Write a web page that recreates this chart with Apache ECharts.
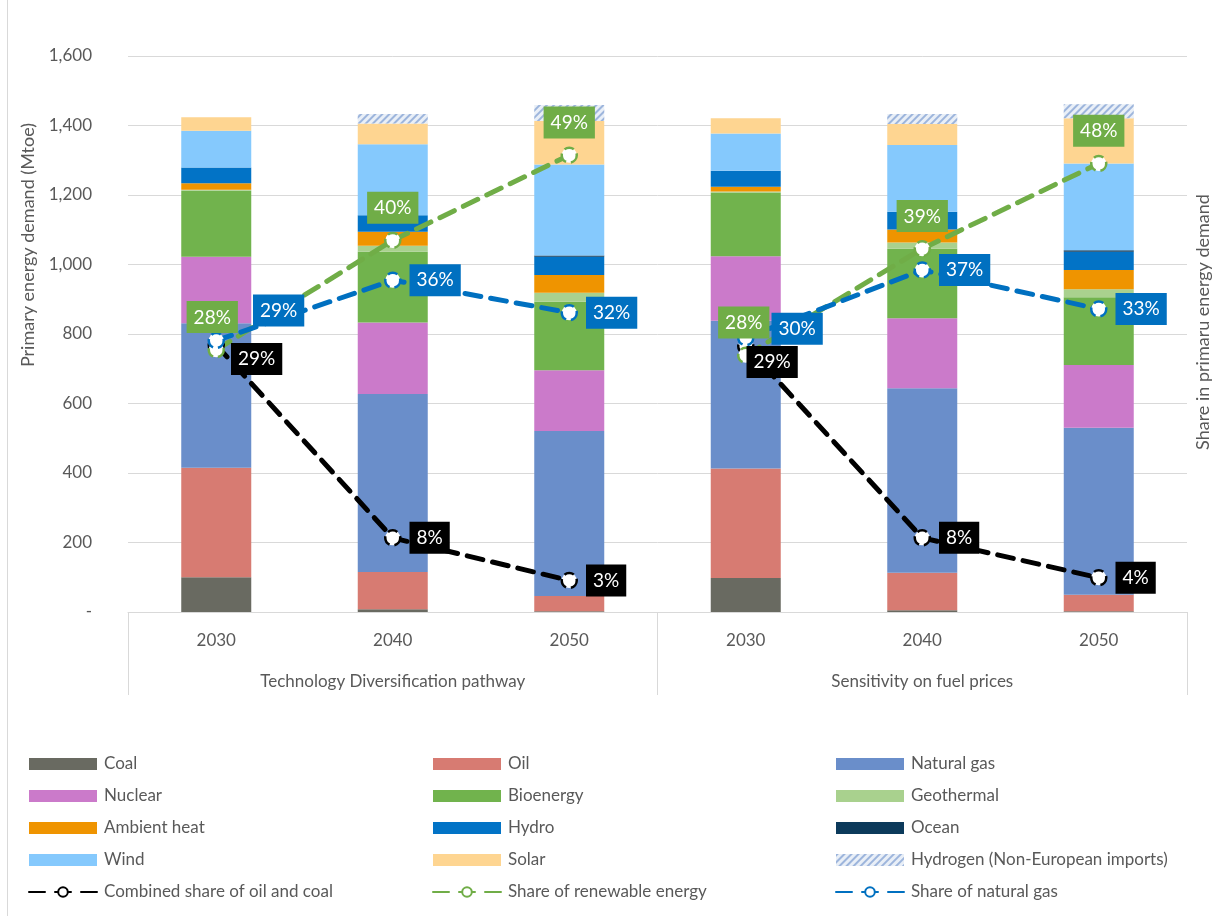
<!DOCTYPE html>
<html>
<head>
<meta charset="utf-8">
<script src="https://cdn.jsdelivr.net/npm/echarts@6/dist/echarts.min.js"></script>
<style>
html,body{margin:0;padding:0;background:#fff;}
#chart{width:1215px;height:916px;}
</style>
</head>
<body>
<div id="chart"></div>
<script>
// ---------- DATA ----------
const years = ['2030', '2040', '2050', '2030', '2040', '2050'];
const groups = ['Technology Diversification pathway', 'Sensitivity on fuel prices'];
const yTicks = [0, 200, 400, 600, 800, 1000, 1200, 1400, 1600];

const coal       = [100,   8,   2,  98,   5,   2];
const oil        = [315, 107,  44, 315, 108,  48];
const naturalGas = [416, 512, 475, 425, 531, 480];
const nuclear    = [191, 206, 175, 186, 201, 181];
const bioenergy  = [190, 204, 197, 183, 200, 195];
const geothermal = [  3,  17,  26,   3,  18,  23];
const ambient    = [ 19,  40,  51,  14,  38,  55];
const hydro      = [ 45,  48,  52,  46,  51,  53];
const ocean      = [  0,   0,   4,   0,   0,   4];
const wind       = [106, 204, 262, 107, 192, 250];
const solar      = [ 39,  60, 125,  44,  60, 130];
const hydrogen   = [  0,  27,  46,   0,  29,  40];

// shares (fraction), per group
const oilCoalShareTD  = [0.288, 0.080, 0.034];
const oilCoalShareSFP = [0.287, 0.080, 0.037];
const renewShareTD    = [0.283, 0.401, 0.493];
const renewShareSFP   = [0.277, 0.392, 0.484];
const gasShareTD      = [0.293, 0.358, 0.323];
const gasShareSFP     = [0.296, 0.369, 0.327];

// ---------- CHART ----------
const FONT = 'Lato, "Open Sans", sans-serif';
const TXT = '#595959';

const barDefs = [
  ['Coal', coal, '#696A61'],
  ['Oil', oil, '#D77B72'],
  ['Natural gas', naturalGas, '#6A8ECA'],
  ['Nuclear', nuclear, '#CB7ACA'],
  ['Bioenergy', bioenergy, '#71B34D'],
  ['Geothermal', geothermal, '#A9D18E'],
  ['Ambient heat', ambient, '#EF9400'],
  ['Hydro', hydro, '#0273C6'],
  ['Ocean', ocean, '#0C3A5B'],
  ['Wind', wind, '#85C9FD'],
  ['Solar', solar, '#FED591'],
  ['Hydrogen (Non-European imports)', hydrogen, '#E9EFF7']
];

const series = barDefs.map(([name, data, color]) => {
  const s = {
    name, type: 'bar', stack: 'total', data, barWidth: 70,
    xAxisIndex: 0, yAxisIndex: 0,
    itemStyle: { color },
    emphasis: { disabled: true }
  };
  if (name.startsWith('Hydrogen')) {
    s.itemStyle.decal = {
      symbol: 'rect', symbolSize: 1, color: '#9DB5DC',
      dashArrayX: [1, 0], dashArrayY: [2, 3], rotation: -Math.PI / 4
    };
  }
  return s;
});

const pct = p => Math.round(p.value * 100) + '%';

function lineSeries(name, color, vals, groupIdx, labelOverrides, defaultPos) {
  const data = years.map((y, i) => {
    const gi = Math.floor(i / 3);
    if (gi !== groupIdx) return '-';
    const k = i % 3;
    const item = { value: vals[k] };
    if (labelOverrides[k]) item.label = labelOverrides[k];
    return item;
  });
  return {
    name, type: 'line', xAxisIndex: 0, yAxisIndex: 1, data,
    symbol: 'circle', symbolSize: 15, z: 5,
    lineStyle: { color, width: 5, type: [16, 10], cap: 'round' },
    itemStyle: { color: '#fff', borderColor: color, borderWidth: 2.5, borderType: 'dashed' },
    label: {
      show: true, formatter: pct, position: defaultPos, distance: 8,
      color: '#fff', fontSize: 19, fontFamily: FONT,
      backgroundColor: color, padding: [7, 7, 6, 7]
    },
    emphasis: { disabled: true }
  };
}

const BLACK = '#000000', GREEN = '#70AD47', BLUE = '#0070C0';
series.push(lineSeries('Combined share of oil and coal', BLACK, oilCoalShareTD, 0,
  [{ position: 'right', offset: [-2, 14] }], 'right'));
series.push(lineSeries('Combined share of oil and coal', BLACK, oilCoalShareSFP, 1,
  [{ position: 'right', offset: [-16, 16] }], 'right'));
series.push(lineSeries('Share of renewable energy', GREEN, renewShareTD, 0,
  [{ position: 'top', offset: [-4, 0] }], 'top'));
series.push(lineSeries('Share of renewable energy', GREEN, renewShareSFP, 1,
  [{ position: 'top', offset: [-2, 0] }], 'top'));
series.push(lineSeries('Share of natural gas', BLUE, gasShareTD, 0,
  [{ position: 'right', offset: [20, -30] }], 'right'));
series.push(lineSeries('Share of natural gas', BLUE, gasShareSFP, 1,
  [{ position: 'right', offset: [9, -9] }], 'right'));

const legendCommon = {
  orient: 'vertical', top: 754, padding: 0, itemWidth: 68, itemHeight: 12, itemGap: 12,
  selectedMode: false,
  textStyle: { color: TXT, fontSize: 17, fontFamily: FONT, lineHeight: 20, padding: [0, 0, 0, 2] }
};
const r = n => ({ name: n, icon: 'rect' });

const option = {
  animation: false,
  backgroundColor: '#fff',
  textStyle: { fontFamily: FONT },
  grid: { left: 128, right: 28, top: 56, bottom: 304, containLabel: false },
  legend: [
    Object.assign({}, legendCommon, { left: 28, data: [r('Coal'), r('Nuclear'), r('Ambient heat'), r('Wind'), 'Combined share of oil and coal'] }),
    Object.assign({}, legendCommon, { left: 432, data: [r('Oil'), r('Bioenergy'), r('Hydro'), r('Solar'), 'Share of renewable energy'] }),
    Object.assign({}, legendCommon, { left: 835, data: [r('Natural gas'), r('Geothermal'), r('Ocean'), r('Hydrogen (Non-European imports)'), 'Share of natural gas'] })
  ],
  xAxis: [
    {
      type: 'category', data: years, position: 'bottom',
      axisLine: { show: true, lineStyle: { color: '#D9D9D9', width: 1 } },
      axisTick: { show: false },
      axisLabel: { color: TXT, fontSize: 17, fontFamily: FONT, margin: 20 }
    },
    {
      type: 'category', data: groups, position: 'bottom',
      axisLine: { show: false },
      axisTick: { show: true, length: 83, lineStyle: { color: '#D9D9D9', width: 1 } },
      axisLabel: { color: TXT, fontSize: 17, fontFamily: FONT, margin: 61 }
    }
  ],
  yAxis: [
    {
      type: 'value', min: yTicks[0], max: yTicks[yTicks.length - 1], interval: 200,
      axisLine: { show: false }, axisTick: { show: false },
      splitLine: { lineStyle: { color: '#D9D9D9', width: 1 } },
      axisLabel: {
        color: TXT, fontSize: 17, fontFamily: FONT, margin: 36,
        formatter: v => v === 0 ? '-' : v.toLocaleString('en-US')
      }
    },
    {
      type: 'value', min: 0, max: 0.6, position: 'right',
      axisLine: { show: false }, axisTick: { show: false },
      splitLine: { show: false }, axisLabel: { show: false }
    }
  ],
  graphic: [
    { type: 'line', shape: { x1: 7.5, y1: 0, x2: 7.5, y2: 916 }, style: { stroke: '#D9D9D9', lineWidth: 1 } },
    { type: 'text', x: 28, y: 245, rotation: Math.PI / 2,
      style: { text: 'Primary energy demand (Mtoe)', fill: TXT, fontSize: 18, fontFamily: FONT, align: 'center', verticalAlign: 'middle' } },
    { type: 'text', x: 1203, y: 322, rotation: Math.PI / 2,
      style: { text: 'Share in primaru energy demand', fill: TXT, fontSize: 18, fontFamily: FONT, align: 'center', verticalAlign: 'middle' } }
  ],
  series
};

const chart = echarts.init(document.getElementById('chart'), null, { renderer: 'canvas' });
chart.setOption(option);
</script>
</body>
</html>
